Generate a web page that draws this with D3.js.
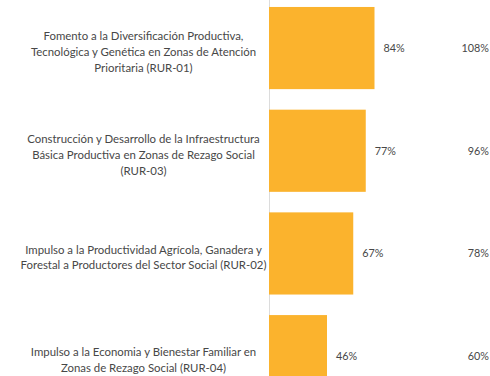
<!DOCTYPE html>
<html>
<head>
<meta charset="utf-8">
<script src="https://cdn.jsdelivr.net/npm/d3@7"></script>
<style>
  html, body { margin: 0; padding: 0; background: #fff; }
  svg { display: block; }
  text { font-family: Lato, "Open Sans", sans-serif; fill: #474747; }
</style>
</head>
<body>
<svg id="chart" width="490" height="376"></svg>
<script>
// Programme labels (one entry per bar, split into display lines)
const programs = [
  ["Fomento a la Diversificación Productiva,", "Tecnológica y Genética en Zonas de Atención", "Prioritaria (RUR-01)"],
  ["Construcción y Desarrollo de la Infraestructura", "Básica Productiva en Zonas de Rezago Social", "(RUR-03)"],
  ["Impulso a la Productividad Agrícola, Ganadera y", "Forestal a Productores del Sector Social (RUR-02)"],
  ["Impulso a la Economia y Bienestar Familiar en", "Zonas de Rezago Social (RUR-04)"]
];
const codes = ["RUR-01", "RUR-03", "RUR-02", "RUR-04"];
// Progress percentage drawn as bars
const progress = [84, 77, 67, 46];
// Second percentage column shown at the right
const secondary = [108, 96, 78, 60];

const svg = d3.select("#chart");

const x = d3.scaleLinear().domain([0, 100]).range([269.5, 394.5]);
const y = d3.scaleBand().domain(codes).range([-3.3, 407.5])
  .paddingInner(0.2).paddingOuter(0.1);

// vertical baseline
svg.append("line")
  .attr("x1", x(0)).attr("x2", x(0))
  .attr("y1", 0).attr("y2", 376)
  .attr("stroke", "#dcdcdc").attr("stroke-width", 1);

// bars
svg.selectAll("rect.bar").data(codes).join("rect")
  .attr("class", "bar")
  .attr("x", x(0) - 0.5)
  .attr("y", d => y(d))
  .attr("width", (d, i) => x(progress[i]) - x(0) + 0.5)
  .attr("height", y.bandwidth())
  .attr("fill", "#FBB32D");

// category labels
const lineH = 15.8;
const labelG = svg.selectAll("g.lbl").data(codes).join("g").attr("class", "lbl");
labelG.each(function(d, i) {
  const lines = programs[i];
  const cy = y(d) + y.bandwidth() / 2 + 4;
  const t = d3.select(this).append("text")
    .attr("text-anchor", "middle")
    .attr("font-size", 11.4);
  lines.forEach((ln, k) => {
    t.append("tspan")
      .attr("x", 143.5)
      .attr("y", cy + (k - (lines.length - 1) / 2) * lineH)
      .attr("dy", "0.35em")
      .text(ln);
  });
});

// value labels beside bars
svg.selectAll("text.val").data(codes).join("text")
  .attr("class", "val")
  .attr("x", (d, i) => x(progress[i]) + 9)
  .attr("y", d => y(d) + y.bandwidth() / 2)
  .attr("dy", "0.35em")
  .attr("font-size", 10.8)
  .text((d, i) => progress[i] + "%");

// right-hand percentage column
svg.selectAll("text.sec").data(codes).join("text")
  .attr("class", "sec")
  .attr("x", 489)
  .attr("y", d => y(d) + y.bandwidth() / 2)
  .attr("dy", "0.35em")
  .attr("text-anchor", "end")
  .attr("font-size", 10.8)
  .text((d, i) => secondary[i] + "%");
</script>
</body>
</html>
